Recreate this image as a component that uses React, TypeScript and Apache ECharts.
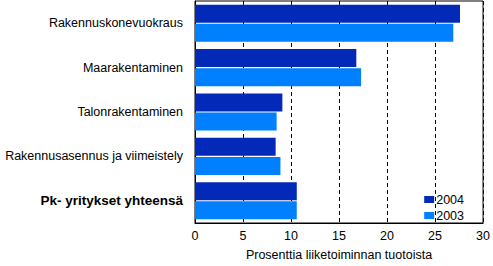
import React, { useEffect, useRef } from "react";
import * as echarts from "echarts";

const categories = [
  "Rakennuskonevuokraus",
  "Maarakentaminen",
  "Talonrakentaminen",
  "Rakennusasennus ja viimeistely",
  "Pk- yritykset yhteensä",
];
const values2004 = [27.6, 16.8, 9.1, 8.4, 10.6];
const values2003 = [26.9, 17.3, 8.5, 8.9, 10.6];
const xTicks = { min: 0, max: 30, interval: 5 };
const xName = "Prosenttia liiketoiminnan tuotoista";

export default function App() {
  const ref = useRef<HTMLDivElement>(null);
  useEffect(() => {
    if (!ref.current) return;
    const chart = echarts.init(ref.current, undefined, { renderer: "svg" });
    const font = "Liberation Sans, Arial, sans-serif";
    chart.setOption({
      animation: false,
      textStyle: { fontFamily: font },
      grid: {
        left: 195,
        right: 7,
        top: 1,
        bottom: 37,
        show: true,
        borderColor: "#000",
        borderWidth: 1,
        backgroundColor: "transparent",
      },
      legend: {
        orient: "vertical",
        right: 24,
        top: 188,
        itemWidth: 10,
        itemHeight: 7,
        itemGap: 3,
        icon: "rect",
        textStyle: { fontSize: 12.5, color: "#000", fontFamily: font, padding: [0, 0, 0, -3] },
        data: ["2004", "2003"],
      },
      xAxis: {
        type: "value",
        min: xTicks.min,
        max: xTicks.max,
        interval: xTicks.interval,
        name: xName,
        nameLocation: "middle",
        nameGap: 25,
        nameTextStyle: { fontSize: 12.5, color: "#000", fontFamily: font },
        axisLine: { show: true, lineStyle: { color: "#000", width: 1 } },
        axisTick: { show: false },
        axisLabel: { fontSize: 12.5, color: "#000", margin: 6, fontFamily: font },
        splitLine: {
          show: true,
          lineStyle: { color: "#000", type: [4, 3], width: 1 },
        },
      },
      yAxis: {
        type: "category",
        data: categories,
        inverse: true,
        axisLine: { show: true, lineStyle: { color: "#000", width: 1 } },
        axisTick: { show: false },
        axisLabel: {
          fontSize: 12.5,
          color: "#000",
          margin: 12,
          fontFamily: font,
          formatter: (v: string, i: number) =>
            i === categories.length - 1 ? `{b|${v}}` : v,
          rich: {
            b: { fontWeight: "bold", fontSize: 13.5, color: "#000", fontFamily: font },
          },
        },
        splitLine: { show: false },
      },
      series: [
        {
          name: "2004",
          type: "bar",
          data: values2004,
          barWidth: 18,
          barGap: "6%",
          itemStyle: { color: "#0229B7" },
        },
        {
          name: "2003",
          type: "bar",
          data: values2003,
          barWidth: 18,
          barGap: "6%",
          itemStyle: { color: "#0080FF" },
        },
      ],
    });
    return () => chart.dispose();
  }, []);
  return (
    <div
      ref={ref}
      style={{ position: "fixed", left: 0, top: 0, width: 493, height: 266, background: "#fff" }}
    />
  );
}
